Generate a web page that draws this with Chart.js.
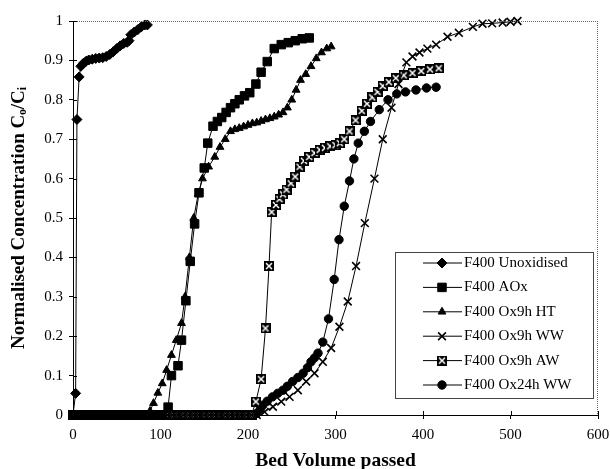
<!DOCTYPE html>
<html>
<head>
<meta charset="utf-8">
<script src="https://cdn.jsdelivr.net/npm/chart.js@4.4.0/dist/chart.umd.min.js"></script>
<style>
  html, body { margin: 0; padding: 0; background: #fff; }
  #wrap { width: 610px; height: 469px; }
</style>
</head>
<body>
<div id="wrap"><canvas id="bvChart" width="610" height="469"></canvas></div>
<script>
// series labels
const seriesLabels = ['F400 Unoxidised', 'F400 AOx', 'F400 Ox9h HT', 'F400 Ox9h WW', 'F400 Ox9h AW', 'F400 Ox24h WW'];

// [bed volume, Co/Ci]
const unoxidised = [[0,0],[3,0.055],[4.5,0.75],[7,0.858],[9,0.885],[12,0.893],[15,0.898],[18,0.901],[22,0.903],[26,0.905],[30,0.906],[34,0.907],[38,0.91],[42,0.915],[46,0.922],[50,0.93],[54,0.937],[58,0.943],[62,0.946],[64,0.95],[66,0.965],[70,0.972],[74,0.978],[78,0.985],[82,0.99],[85,0.99]];

const aox = [[0,0],[6,0],[12,0],[18,0],[24,0],[30,0],[36,0],[42,0],[48,0],[54,0],[60,0],[66,0],[72,0],[78,0],[84,0],[90,0],[96,0],[102,0],
  [108.7,0.02],[112.5,0.10],[120,0.125],[124,0.19],[129,0.29],[134,0.39],[139,0.485],[144,0.564],[150,0.627],[154,0.69],[160,0.733],[165,0.745],[170,0.755],[175,0.768],[180,0.78],[185,0.79],[190,0.80],[196,0.81],[202,0.818],[209,0.84],[215,0.87],[222,0.897],[230,0.93],[238,0.94],[246,0.945],[254,0.95],[262,0.955],[270,0.957]];

const ox9hHT = [[0,0],[6,0],[12,0],[18,0],[24,0],[30,0],[36,0],[42,0],[48,0],[54,0],[60,0],[66,0],[72,0],[78,0],[84,0],
  [88,0.01],[92,0.03],[97,0.056],[102,0.08],[107,0.114],[112.5,0.152],[118,0.19],[124,0.233],[128,0.3],[133,0.4],[138,0.5],[143,0.56],[148,0.6],[155,0.63],[162,0.655],[168,0.68],[174,0.70],[180,0.72],[185,0.725],[190,0.728],[195,0.732],[200,0.736],[205,0.74],[210,0.742],[215,0.746],[220,0.75],[225,0.753],[230,0.757],[235,0.762],[240,0.768],[245,0.78],[250,0.80],[255,0.825],[260,0.85],[266,0.865],[272,0.885],[278,0.905],[284,0.92],[290,0.93],[295,0.935]];

const ox9hWW = [[0,0],[6,0],[12,0],[18,0],[24,0],[30,0],[36,0],[42,0],[48,0],[54,0],[60,0],[66,0],[72,0],[78,0],[84,0],[90,0],[96,0],[102,0],[108,0],[114,0],[120,0],[126,0],[132,0],[138,0],[144,0],[150,0],[156,0],[162,0],[168,0],[174,0],[180,0],[186,0],[192,0],[198,0],[204,0],[210,0],
  [219,0.008],[228.5,0.021],[238,0.034],[247.5,0.046],[257,0.063],[266.5,0.085],[276,0.106],[285.5,0.135],[295,0.17],[304.5,0.224],[314,0.288],[323.5,0.378],[333.5,0.487],[344.5,0.60],[354,0.70],[364,0.78],[372,0.84],[381,0.895],[388,0.91],[396,0.92],[405,0.93],[415,0.94],[428,0.96],[441,0.97],[457,0.985],[468,0.993],[479,0.994],[491,0.996],[500,0.998],[508,1.0]];

const ox9hAW = [[0,0],[6,0],[12,0],[18,0],[24,0],[30,0],[36,0],[42,0],[48,0],[54,0],[60,0],[66,0],[72,0],[78,0],[84,0],[90,0],[96,0],[102,0],[108,0],[114,0],[120,0],[126,0],[132,0],[138,0],[144,0],[150,0],[156,0],[162,0],[168,0],[174,0],[180,0],[186,0],[192,0],[198,0],[204,0],
  [209,0.034],[215,0.091],[220,0.22],[224,0.378],[227,0.515],[232,0.533],[236,0.548],[240,0.56],[244,0.572],[249,0.588],[254,0.605],[259,0.63],[264,0.645],[270,0.655],[276,0.665],[282,0.673],[288,0.678],[294,0.682],[300,0.685],[305,0.69],[310,0.70],[316,0.72],[323,0.748],[330,0.772],[336,0.79],[342,0.806],[348,0.82],[354,0.835],[361,0.845],[369,0.855],[378,0.862],[388,0.868],[398,0.873],[408,0.877],[418,0.88]];

const ox24hWW = [[0,0],[6,0],[12,0],[18,0],[24,0],[30,0],[36,0],[42,0],[48,0],[54,0],[60,0],[66,0],[72,0],[78,0],[84,0],[90,0],[96,0],[102,0],[108,0],[114,0],[120,0],[126,0],[132,0],[138,0],[144,0],[150,0],[156,0],[162,0],[168,0],[174,0],[180,0],[186,0],[192,0],[198,0],[204,0],
  [210,0.004],[214,0.015],[217,0.025],[222,0.035],[228,0.046],[234,0.055],[240,0.063],[245,0.073],[251,0.085],[257,0.095],[263,0.106],[268,0.12],[272,0.135],[276,0.145],[280,0.157],[285.5,0.185],[292,0.244],[298.5,0.344],[304,0.445],[310,0.53],[316,0.594],[321,0.65],[326,0.69],[333,0.72],[340,0.745],[350,0.775],[360,0.80],[370,0.815],[380,0.82],[392,0.825],[404,0.83],[415,0.832]];

const xTicks = [0, 100, 200, 300, 400, 500, 600];
const yTicks = [0, 0.1, 0.2, 0.3, 0.4, 0.5, 0.6, 0.7, 0.8, 0.9, 1];

const FONT = "'Liberation Serif', 'Times New Roman', serif";

// black square with a white cross, for the AW series
const makeBoxedX = (size) => {
    const c = document.createElement('canvas');
    c.width = size; c.height = size;
    const g = c.getContext('2d');
    g.fillStyle = '#000';
    g.fillRect(0, 0, size, size);
    g.strokeStyle = '#fff';
    g.lineWidth = 1.5;
    g.beginPath();
    g.moveTo(2, 2); g.lineTo(size - 2, size - 2);
    g.moveTo(size - 2, 2); g.lineTo(2, size - 2);
    g.stroke();
    return c;
};
const boxedX = makeBoxedX(10);

const toPoints = (arr) => arr.map(p => ({ x: p[0], y: p[1] }));

const markerStyles = [
    { pointStyle: 'rectRot', pointRadius: 5, pointBorderWidth: 1 },
    { pointStyle: 'rect', pointRadius: 6, pointBorderWidth: 1 },
    { pointStyle: 'triangle', pointRadius: 4.5, pointBorderWidth: 1 },
    { pointStyle: 'crossRot', pointRadius: 5.5, pointBorderWidth: 1.6 },
    { pointStyle: boxedX, pointRadius: 5, pointBorderWidth: 1 },
    { pointStyle: 'circle', pointRadius: 4.2, pointBorderWidth: 1 }
];
const seriesData = [unoxidised, aox, ox9hHT, ox9hWW, ox9hAW, ox24hWW];

const datasets = seriesData.map((d, i) => Object.assign({
    label: seriesLabels[i],
    data: toPoints(d),
    borderColor: '#000',
    backgroundColor: '#000',
    pointBackgroundColor: '#000',
    pointBorderColor: '#000',
    borderWidth: 1,
    tension: 0,
    clip: 10
}, markerStyles[i]));

// frame, inner tick halves and the boxed legend
const framePlugin = {
    id: 'framePlugin',
    afterDraw(chart) {
        const ctx = chart.ctx;
        const a = chart.chartArea;
        const xs = chart.scales.x, ys = chart.scales.y;
        ctx.save();
        // dotted top and right border
        ctx.strokeStyle = '#666';
        ctx.lineWidth = 1;
        ctx.setLineDash([1, 1]);
        ctx.beginPath();
        ctx.moveTo(a.left, a.top + 0.5); ctx.lineTo(a.right, a.top + 0.5);
        ctx.moveTo(a.right - 0.5, a.top); ctx.lineTo(a.right - 0.5, a.bottom);
        ctx.stroke();
        ctx.setLineDash([]);
        // inner half of tick marks
        ctx.strokeStyle = '#000';
        ctx.beginPath();
        yTicks.forEach(v => {
            const py = Math.round(ys.getPixelForValue(v)) + 0.5;
            ctx.moveTo(a.left, py); ctx.lineTo(a.left + 4, py);
        });
        xTicks.forEach(v => {
            const px = Math.round(xs.getPixelForValue(v)) + 0.5;
            ctx.moveTo(px, a.bottom); ctx.lineTo(px, a.bottom - 4);
        });
        ctx.stroke();

        // legend box
        const bx = 395, by = 252, bw = 198, bh = 146;
        ctx.fillStyle = '#fff';
        ctx.fillRect(bx, by, bw, bh);
        ctx.strokeStyle = '#444';
        ctx.strokeRect(bx + 0.5, by + 0.5, bw, bh);
        ctx.font = '15px ' + FONT;
        ctx.textBaseline = 'middle';
        ctx.textAlign = 'left';
        chart.data.datasets.forEach((ds, i) => {
            const y = 263 + i * 24.4;
            ctx.strokeStyle = '#000';
            ctx.lineWidth = 1;
            ctx.beginPath();
            ctx.moveTo(423, y); ctx.lineTo(462, y);
            ctx.stroke();
            ctx.fillStyle = '#000';
            ctx.lineWidth = ds.pointBorderWidth;
            Chart.helpers.drawPoint(ctx, {
                pointStyle: ds.pointStyle,
                radius: ds.pointRadius,
                rotation: 0,
                borderWidth: ds.pointBorderWidth
            }, 442, y);
            ctx.fillStyle = '#000';
            ctx.fillText(ds.label, 464, y);
        });
        ctx.restore();
    }
};

const ctx = document.getElementById('bvChart').getContext('2d');
window.bvChart = new Chart(ctx, {
    type: 'line',
    data: { datasets: datasets },
    options: {
        responsive: false,
        animation: false,
        layout: { padding: { top: 21, right: 12, left: 0, bottom: 0 } },
        plugins: {
            legend: { display: false },
            tooltip: { enabled: false }
        },
        scales: {
            x: {
                type: 'linear',
                min: 0,
                max: 600,
                afterFit: (scale) => { scale.height = 54; scale.paddingRight = 0; },
                afterBuildTicks: (scale) => { scale.ticks = xTicks.map(v => ({ value: v })); },
                grid: { display: true, drawOnChartArea: false, color: '#000', tickLength: 4, tickColor: '#000' },
                border: { display: true, color: '#000', width: 1 },
                ticks: { color: '#000', font: { family: FONT, size: 15 }, padding: 7, maxRotation: 0 },
                title: {
                    display: true,
                    text: 'Bed Volume passed',
                    color: '#000',
                    font: { family: FONT, size: 19.5, weight: 'bold' },
                    padding: { top: 9, bottom: -4 }
                }
            },
            y: {
                type: 'linear',
                min: 0,
                max: 1,
                afterFit: (scale) => { scale.width = 73; },
                afterBuildTicks: (scale) => { scale.ticks = yTicks.map(v => ({ value: v })); },
                grid: { display: true, drawOnChartArea: false, color: '#000', tickLength: 4, tickColor: '#000' },
                border: { display: true, color: '#000', width: 1 },
                ticks: {
                    color: '#000',
                    font: { family: FONT, size: 15 },
                    padding: 6,
                    callback: (value) => String(Number(value.toFixed(1)))
                },
                title: {
                    display: true,
                    text: 'Normalised Concentration C\u2092/C\u1D62',
                    color: '#000',
                    font: { family: FONT, size: 19, weight: 'bold' },
                    padding: { top: 8, bottom: 0 }
                }
            }
        }
    },
    plugins: [framePlugin]
});
</script>
</body>
</html>
